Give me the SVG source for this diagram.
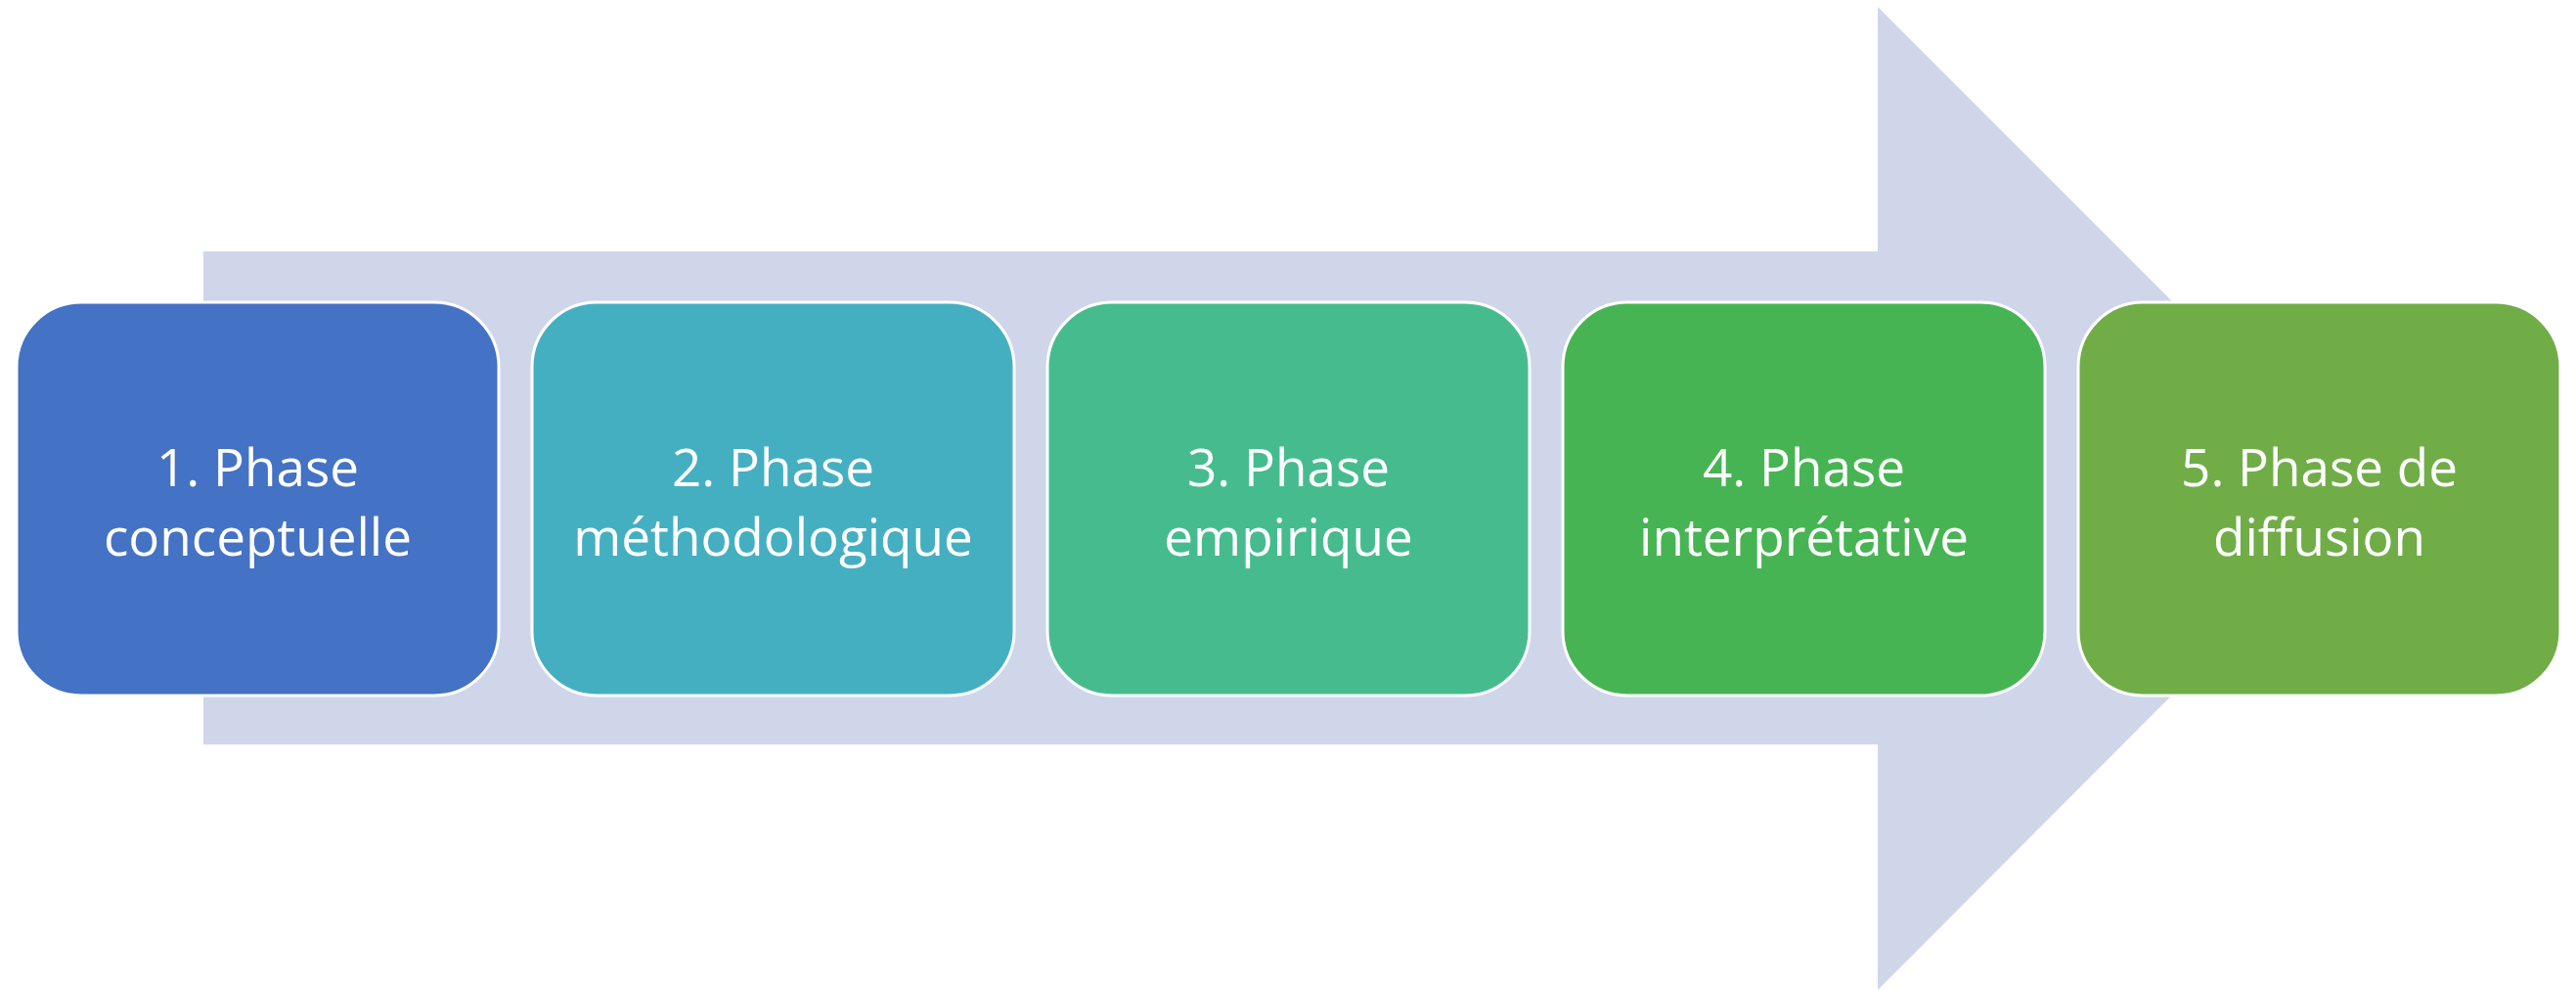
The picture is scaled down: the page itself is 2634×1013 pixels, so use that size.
<svg xmlns="http://www.w3.org/2000/svg" width="2634" height="1013" viewBox="0 0 2634 1013">
<style>
.box{stroke:#FFFFFF;stroke-width:3}
.lbl{font-family:"Open Sans","Liberation Sans",sans-serif;font-size:53px;fill:#FFFFFF;text-anchor:middle}
</style>
<rect width="2634" height="1013" fill="#FFFFFF"/>
<g id="arrow">
<polygon points="208,257 1920,257 1920,7 2422,509 1920,1012 1920,761 208,761" fill="#CFD6EA"/>
</g>
<g id="connectors"></g>
<g id="node1">
<rect class="box" x="17" y="309" width="493" height="402" rx="66" ry="66" fill="#4472C4"/>
<text class="lbl" x="263.5" y="497">1. Phase</text>
<text class="lbl" x="263.5" y="568">conceptuelle</text>
</g>
<g id="node2">
<rect class="box" x="544" y="309" width="493" height="402" rx="66" ry="66" fill="#45AFC2"/>
<text class="lbl" x="790.5" y="497">2. Phase</text>
<text class="lbl" x="790.5" y="568">méthodologique</text>
</g>
<g id="node3">
<rect class="box" x="1071" y="309" width="493" height="402" rx="66" ry="66" fill="#46BC8E"/>
<text class="lbl" x="1317.5" y="497">3. Phase</text>
<text class="lbl" x="1317.5" y="568">empirique</text>
</g>
<g id="node4">
<rect class="box" x="1598" y="309" width="493" height="402" rx="66" ry="66" fill="#47B453"/>
<text class="lbl" x="1844.5" y="497">4. Phase</text>
<text class="lbl" x="1844.5" y="568">interprétative</text>
</g>
<g id="node5">
<rect class="box" x="2125" y="309" width="493" height="402" rx="66" ry="66" fill="#70AD47"/>
<text class="lbl" x="2371.5" y="497">5. Phase de</text>
<text class="lbl" x="2371.5" y="568">diffusion</text>
</g>
</svg>
